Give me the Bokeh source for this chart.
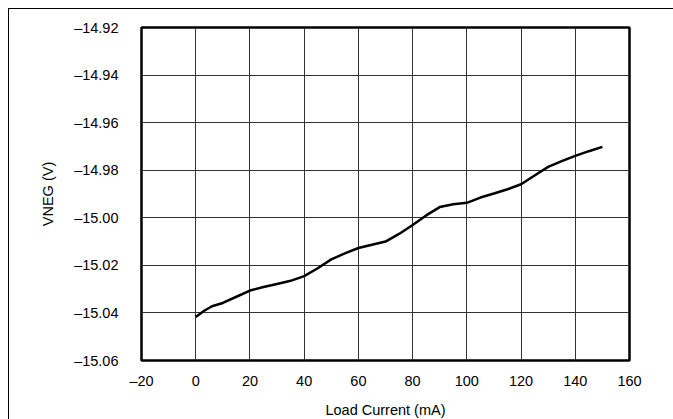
from bokeh.plotting import figure
from bokeh.models import FixedTicker, CustomJSTickFormatter, Label, Range1d
from bokeh.embed import file_html
from bokeh.resources import INLINE

load_current = [0, 3, 6, 10, 15, 20, 25, 30, 35, 40, 45, 50, 55, 60, 65, 70,
                75, 80, 85, 90, 95, 100, 105, 110, 115, 120, 125, 130, 135,
                140, 145, 150]
vneg = [-15.0417, -15.0392, -15.0372, -15.0358, -15.0332, -15.0306, -15.0291,
        -15.0278, -15.0265, -15.0245, -15.0212, -15.0175, -15.0150, -15.0127,
        -15.0113, -15.0100, -15.0068, -15.0030, -14.9990, -14.9955, -14.9943,
        -14.9937, -14.9915, -14.9898, -14.9880, -14.9859, -14.9822, -14.9786,
        -14.9762, -14.9740, -14.9720, -14.9702]
x_ticks = [-20, 0, 20, 40, 60, 80, 100, 120, 140, 160]
y_ticks = [-15.06, -15.04, -15.02, -15.00, -14.98, -14.96, -14.94, -14.92]

FONT = "Liberation Sans"

p = figure(width=665, height=411, output_backend="svg", toolbar_location=None,
           x_range=Range1d(-20, 160), y_range=Range1d(-15.06, -14.92),
           min_border_left=132, min_border_right=45, min_border_top=18,
           min_border_bottom=53)
p.styles = {"margin-left": "8px", "margin-top": "8px",
            "border-left": "1px solid black", "border-top": "1px solid black"}

p.outline_line_color = "black"
p.outline_line_width = 2.5
p.background_fill_color = "white"
p.border_fill_color = "white"

p.xaxis.ticker = FixedTicker(ticks=x_ticks)
p.yaxis.ticker = FixedTicker(ticks=y_ticks)
p.xaxis.formatter = CustomJSTickFormatter(
    code="return tick < 0 ? '\u2013' + Math.abs(tick).toFixed(0) : tick.toFixed(0);")
p.yaxis.formatter = CustomJSTickFormatter(
    code="return '\u2013' + Math.abs(tick).toFixed(2);")

for ax in (p.xaxis, p.yaxis):
    ax.axis_line_color = None
    ax.major_tick_line_color = None
    ax.minor_tick_line_color = None
    ax.major_label_text_font = FONT
    ax.major_label_text_font_size = "14.5px"
    ax.major_label_text_color = "black"
    ax.axis_label_text_font = FONT
    ax.axis_label_text_font_size = "14.5px"
    ax.axis_label_text_font_style = "normal"
    ax.axis_label_text_color = "black"

p.xaxis.axis_label = "Load Current (mA)"
p.yaxis.axis_label = "VNEG (V)"
p.xaxis.major_label_standoff = 6
p.yaxis.major_label_standoff = 17
p.xaxis.axis_label_standoff = 10
p.yaxis.axis_label_standoff = 15

p.xgrid.ticker = FixedTicker(ticks=x_ticks)
p.ygrid.ticker = FixedTicker(ticks=y_ticks)
p.grid.grid_line_color = "#333333"
p.grid.grid_line_width = 1
p.grid.grid_line_alpha = 1

p.line(load_current, vneg, line_color="black", line_width=2.5)

p.add_layout(Label(x=492, y=-53, x_units="screen", y_units="screen",
                   text="C003", text_font=FONT,
                   text_font_size="8.5px", text_align="center",
                   text_baseline="middle", text_color="black"))

open("out.html", "w").write(file_html(p, INLINE))
